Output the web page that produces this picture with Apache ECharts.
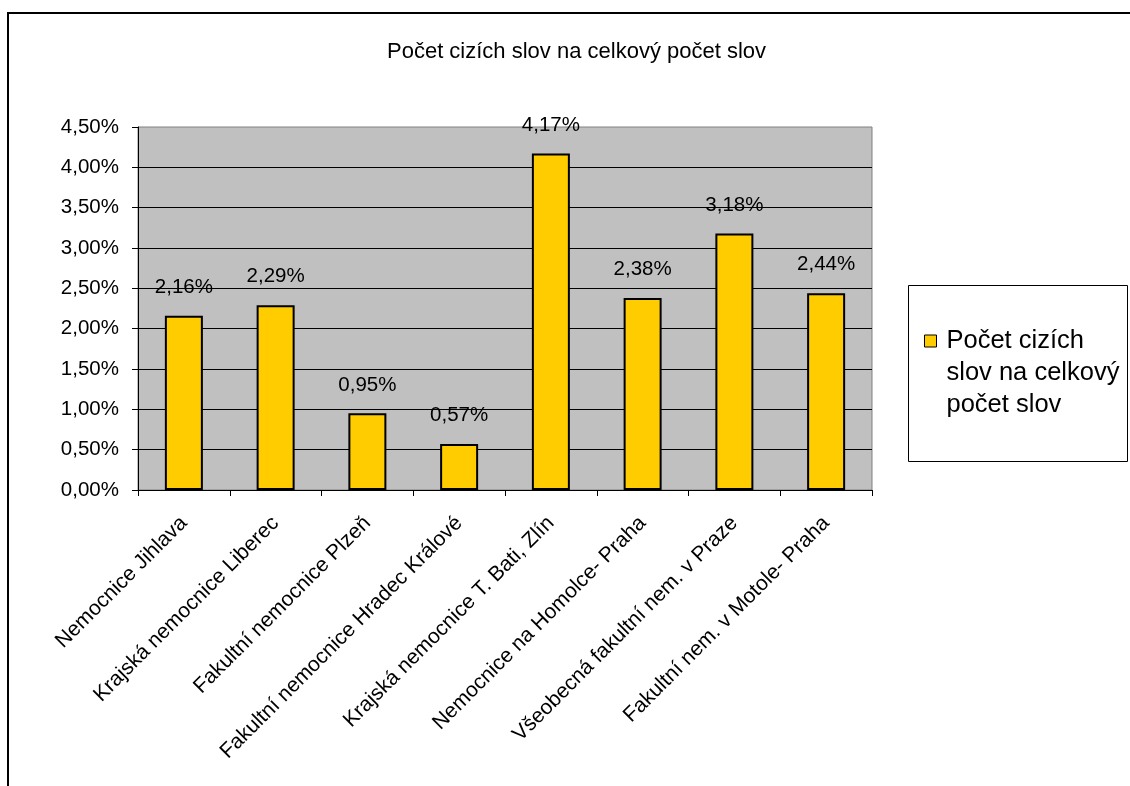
<!DOCTYPE html>
<html>
<head>
<meta charset="utf-8">
<script src="https://cdn.jsdelivr.net/npm/echarts@6/dist/echarts.min.js"></script>
<style>html,body{margin:0;padding:0;background:#fff;}#c{width:1130px;height:786px;}</style>
</head>
<body>
<div id="c"></div>
<script>
const categories = [
  'Nemocnice Jihlava',
  'Krajská nemocnice Liberec',
  'Fakultní nemocnice Plzeň',
  'Fakultní nemocnice Hradec Králové',
  'Krajská nemocnice T. Bati, Zlín',
  'Nemocnice na Homolce- Praha',
  'Všeobecná fakultní nem. v Praze',
  'Fakultní nem. v Motole- Praha'
];
const values = [2.16, 2.29, 0.95, 0.57, 4.17, 2.38, 3.18, 2.44];
const seriesName = 'Počet cizích slov na celkový počet slov';
const legendLines = ['Počet cizích', 'slov na celkový', 'počet slov'];
const titleText = 'Počet cizích slov na celkový počet slov';
const yMin = 0, yMax = 4.5, yStep = 0.5;

const fmt = v => v.toFixed(2).replace('.', ',') + '%';
const font = '"Liberation Sans", Arial, sans-serif';

const chart = echarts.init(document.getElementById('c'), null, {renderer: 'canvas'});
chart.setOption({
  animation: false,
  backgroundColor: '#ffffff',
  textStyle: {fontFamily: font},
  title: {
    text: titleText,
    left: 382, top: 36,
    textStyle: {fontFamily: font, fontSize: 22, fontWeight: 'normal', color: '#000'}
  },
  graphic: [
    {type: 'rect', shape: {x: 8, y: 13, width: 1200, height: 900}, style: {fill: 'none', stroke: '#000', lineWidth: 2}, z: 0},
    {type: 'rect', shape: {x: 908.5, y: 285.5, width: 219, height: 176}, style: {fill: '#fff', stroke: '#000', lineWidth: 1}, z: 0}
  ],
  legend: {
    data: [seriesName],
    left: 924, top: 261, padding: 0,
    orient: 'vertical',
    icon: 'rect', itemWidth: 12, itemHeight: 12,
    itemStyle: {borderWidth: 1, borderColor: '#000'},
    formatter: () => '\n\n' + legendLines.join('\n'),
    textStyle: {fontFamily: font, fontSize: 25.5, color: '#000', lineHeight: 32, padding: [0, 0, 0, 5]},
    z: 5
  },
  grid: {
    left: 138, top: 127, right: 258, bottom: 296,
    show: true, backgroundColor: '#C0C0C0', borderColor: '#808080', borderWidth: 1
  },
  xAxis: {
    type: 'category', data: categories,
    axisLine: {lineStyle: {color: '#000', width: 1}},
    axisTick: {show: true, length: 6, lineStyle: {color: '#000'}},
    axisLabel: {rotate: 45, fontSize: 21, color: '#000', fontFamily: font, margin: 30, interval: 0}
  },
  yAxis: {
    type: 'value', min: yMin, max: yMax, interval: yStep,
    axisLine: {show: true, lineStyle: {color: '#000', width: 1}},
    axisTick: {show: true, length: 6, lineStyle: {color: '#000'}},
    axisLabel: {fontSize: 20.5, color: '#000', fontFamily: font, margin: 19, formatter: v => fmt(v)},
    splitLine: {show: true, showMaxLine: false, lineStyle: {color: '#000', width: 1}}
  },
  series: [{
    name: seriesName, type: 'bar', data: values,
    barWidth: 38,
    itemStyle: {color: '#FFCC00', borderColor: '#000', borderWidth: 2},
    label: {show: true, position: 'top', distance: 18, fontSize: 20.5, color: '#000', fontFamily: font, formatter: p => fmt(p.value)}
  }]
});
</script>
</body>
</html>
